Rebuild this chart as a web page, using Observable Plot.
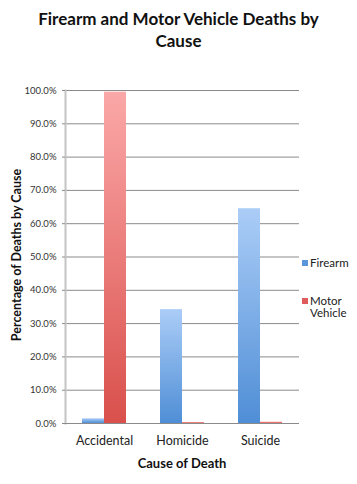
<!DOCTYPE html>
<html><head><meta charset="utf-8">
<script src="https://cdn.jsdelivr.net/npm/d3@7"></script>
<script src="https://cdn.jsdelivr.net/npm/@observablehq/plot@0.6"></script>
<style>
body{margin:0;background:#fff;font-family:Lato,"Open Sans",sans-serif;}
#wrap{position:relative;width:357px;height:484px;}
#title{position:absolute;left:0;top:8px;width:357px;text-align:center;font-weight:bold;font-size:17px;line-height:22px;color:#111;}
#chart{position:absolute;left:0;top:60px;}
.leg{position:absolute;font-size:11.5px;color:#222;line-height:12px;}
.sw{position:absolute;width:6px;height:6px;}
#ytitle{position:absolute;left:16px;top:255px;transform:translate(-50%,-50%) rotate(-90deg);white-space:nowrap;font-weight:bold;font-size:12.5px;color:#111;}
</style></head>
<body><div id="wrap">
<div id="title">Firearm and Motor Vehicle Deaths by<br>Cause</div>
<div id="chart"></div>
<div id="ytitle">Percentage of Deaths by Cause</div>
<div class="sw" style="left:302px;top:260px;background:#5a95dc"></div>
<div class="leg" style="left:310px;top:257px">Firearm</div>
<div class="sw" style="left:302px;top:298px;background:#e05c5c"></div>
<div class="leg" style="left:310px;top:295px">Motor<br>Vehicle</div>
</div>
<script>
const causes = ["Accidental", "Homicide", "Suicide"];
const series = ["Firearm", "Motor Vehicle"];
const firearmValues = [0.014, 0.342, 0.645];
const motorValues = [0.995, 0.003, 0.004];
const yTicks = [0,0.1,0.2,0.3,0.4,0.5,0.6,0.7,0.8,0.9,1.0];

const data = [];
causes.forEach((c,i)=>{
  data.push({cause:c, series:series[0], value:firearmValues[i]});
  data.push({cause:c, series:series[1], value:motorValues[i]});
});

const plot = Plot.plot({
  width: 357, height: 424,
  marginTop: 30, marginBottom: 61, marginLeft: 65, marginRight: 58,
  style:{fontFamily:"Lato, 'Open Sans', sans-serif", background:"#fff"},
  fx:{domain:causes, padding:0, label:null, axis:null},
  x:{domain:series, paddingInner:0, paddingOuter:0.77, axis:null},
  y:{domain:[0,1], axis:null},
  marks:[
    Plot.gridY(yTicks, {stroke:"#8a8a8a", strokeOpacity:1, strokeWidth:1}),
    Plot.frame({anchor:"left", facetAnchor:"left", stroke:"#c4c4c4", strokeWidth:2}),
    Plot.axisY(yTicks, {tickSize:3, tickPadding:6, stroke:"#8a8a8a", tickFormat:d3.format(".1%"), fontSize:9.5, fill:"#333", label:null}),
    Plot.barY(data, {fx:"cause", x:"series", y:"value",
      fill: d => d.series === "Firearm" ? "url(#gBlue)" : "url(#gRed)", inset:0}),
    Plot.axisFx({anchor:"bottom", tickSize:0, tickPadding:13, fontSize:12.5, fill:"#222", label:null}),
    Plot.ruleY([0], {stroke:"#8a8a8a"})
  ]
});
const svg = d3.select(plot);
const defs = svg.insert("defs", ":first-child");
const gb = defs.append("linearGradient").attr("id","gBlue").attr("x1",0).attr("y1",0).attr("x2",0).attr("y2",1);
gb.append("stop").attr("offset","0%").attr("stop-color","#abcdf7");
gb.append("stop").attr("offset","100%").attr("stop-color","#4f8ed6");
const gr = defs.append("linearGradient").attr("id","gRed").attr("x1",0).attr("y1",0).attr("x2",0).attr("y2",1);
gr.append("stop").attr("offset","0%").attr("stop-color","#fba8a8");
gr.append("stop").attr("offset","100%").attr("stop-color","#d9504c");
document.getElementById("chart").appendChild(plot);
const xt = document.createElement("div");
xt.textContent = "Cause of Death";
xt.style.cssText = "position:absolute;left:65px;width:234px;text-align:center;top:455px;font-weight:bold;font-size:13px;color:#111;";
document.getElementById("wrap").appendChild(xt);
</script>
</body></html>
